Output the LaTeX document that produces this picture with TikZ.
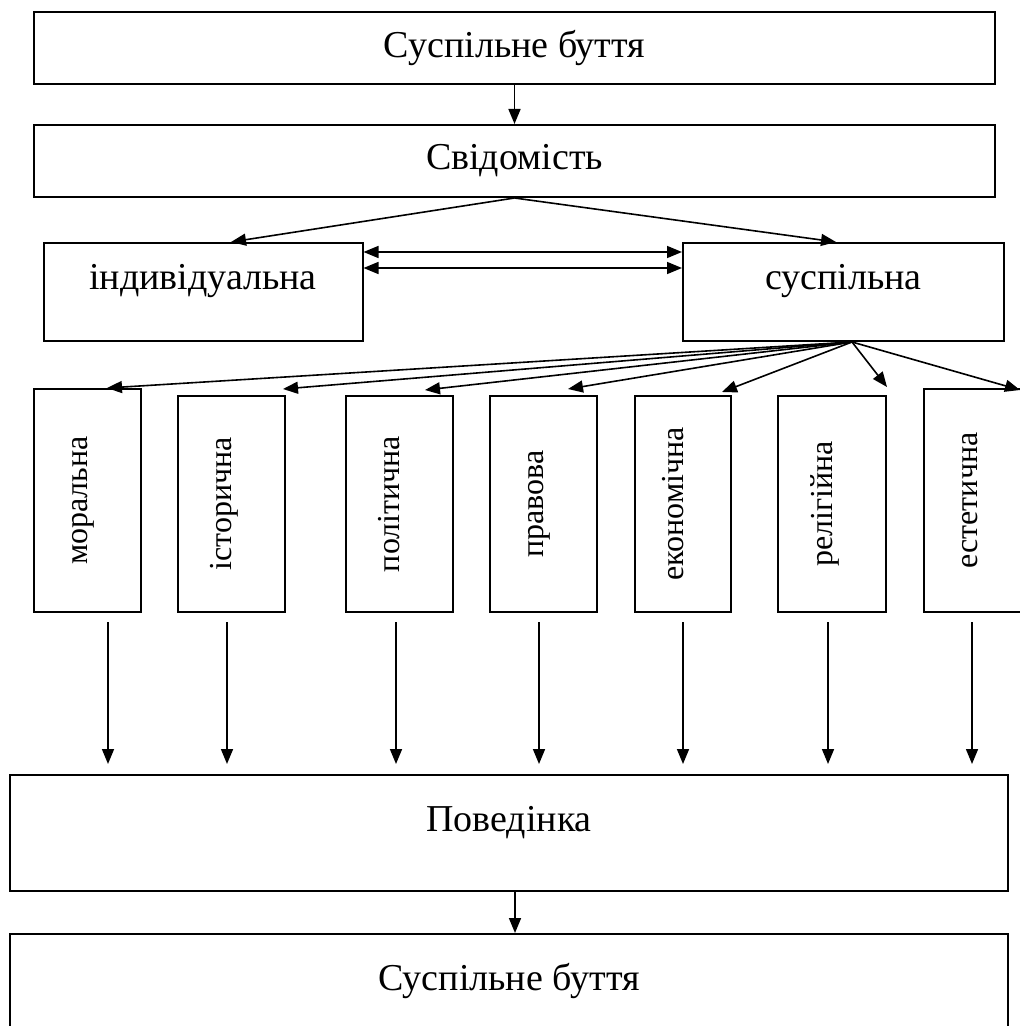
\documentclass[tikz,border=0pt]{standalone}
\usepackage{fontspec}
\setmainfont{Liberation Serif}
\usetikzlibrary{arrows.meta}

\begin{document}
\begin{tikzpicture}[
    x=0.5pt, y=-0.5pt, line width=0.8pt,
    >={Triangle[length=7.5pt,width=6pt]},
    box/.style={rectangle,draw,line width=1pt,inner sep=0pt,font=\fontsize{19}{23}\selectfont},
    raised/.style={text height=13pt,text depth=15pt},
    vbox/.style={box,rotate=90,font=\fontsize{16}{19}\selectfont,text height=11pt,text depth=11pt,minimum height=53.5pt},
    fall/.style={->,shorten <=4.5pt,shorten >=5pt}
    ]

    \clip (0,0) rectangle (1020,1026);

    \node (top) at (514.5, 48) [box, minimum width=480.5pt, minimum height=36pt] {Суспільне буття};
    \node (svid) at (514.5, 161) [box, minimum width=480.5pt, minimum height=36pt] {Свідомість};
    \node (ind) at (203, 292) [box, raised, minimum width=159.5pt, minimum height=49pt] {індивідуальна};
    \node (susp) at (843.5, 292) [box, raised, minimum width=160.5pt, minimum height=49pt] {суспільна};
    \node (m1) at (87.5, 500.5) [vbox, minimum width=111.5pt] {моральна};
    \node (m2) at (231.5, 504) [vbox, minimum width=108pt] {історична};
    \node (m3) at (399.5, 504) [vbox, minimum width=108pt] {політична};
    \node (m4) at (543.5, 504) [vbox, minimum width=108pt] {правова};
    \node (m5) at (683, 504) [vbox, minimum width=108pt, minimum height=48pt] {економічна};
    \node (m6) at (832, 504) [vbox, minimum width=108pt, minimum height=54pt] {релігійна};
    \node (m7) at (977.5, 500.5) [vbox, minimum width=111.5pt] {естетична};
    \node (beh) at (509, 833) [box, raised, minimum width=499pt, minimum height=58pt] {Поведінка};
    \node (bot) at (509, 992) [box, raised, minimum width=499pt, minimum height=58pt] {Суспільне буття};

    \draw [->] (top) to (svid);
    \draw [->] (svid.south) to ([xshift=14pt]ind.north);
    \draw [->] (svid.south) to ([xshift=-3.75pt]susp.north);
    \draw [<->] ([yshift=20pt]ind.east) to ([yshift=20pt]susp.west);
    \draw [<->] ([yshift=12pt]ind.east) to ([yshift=12pt]susp.west);

    % rotated boxes: east is the top edge, west the bottom edge
    \draw [->] ([xshift=4.25pt]susp.south) to ([xshift=9.75pt]m1.east);
    \draw [->] ([xshift=4.25pt]susp.south) to ([xshift=25.75pt, yshift=3pt]m2.east);
    \draw [->] ([xshift=4.25pt]susp.south) to ([xshift=12.75pt, yshift=2.5pt]m3.east);
    \draw [->] ([xshift=4.25pt]susp.south) to ([xshift=12.25pt, yshift=3pt]m4.east);
    \draw [->] ([xshift=4.25pt]susp.south) to ([xshift=19.5pt, yshift=1.5pt]m5.east);
    \draw [->] ([xshift=4.25pt]susp.south) to ([xshift=27.5pt, yshift=4pt]m6.east);
    \draw [->] ([xshift=4.25pt]susp.south) to ([xshift=21.25pt, yshift=-1pt]m7.east);

    \draw [fall] (m1.west -| 108,0) to (beh.north -| 108,0);
    \draw [fall] (m2.west -| 227,0) to (beh.north -| 227,0);
    \draw [fall] (m3.west -| 396,0) to (beh.north -| 396,0);
    \draw [fall] (m4.west -| 539,0) to (beh.north -| 539,0);
    \draw [fall] (m5.west -| 683,0) to (beh.north -| 683,0);
    \draw [fall] (m6.west -| 828,0) to (beh.north -| 828,0);
    \draw [fall] (m7.west -| 972,0) to (beh.north -| 972,0);

    \draw [->] ([xshift=3pt]beh.south) to ([xshift=3pt]bot.north);
\end{tikzpicture}
\end{document}
